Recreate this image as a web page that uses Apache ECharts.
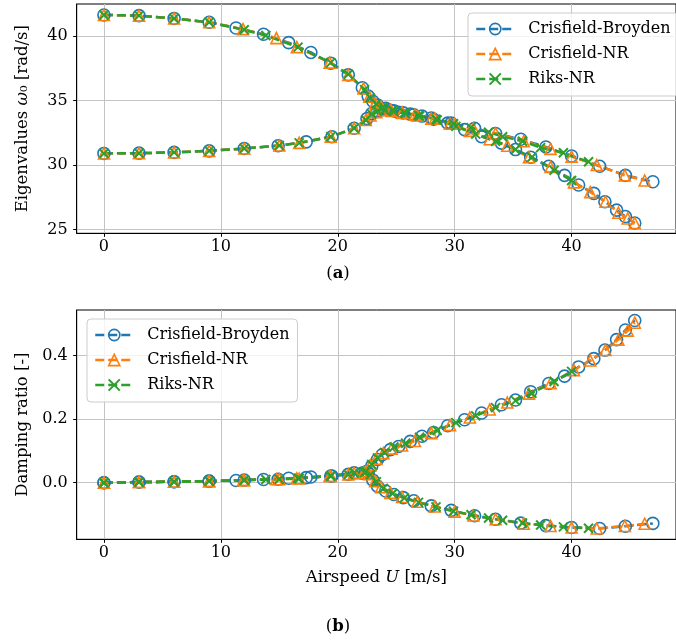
<!DOCTYPE html>
<html>
<head>
<meta charset="utf-8">
<script src="https://cdn.jsdelivr.net/npm/echarts@6/dist/echarts.min.js"></script>
<style>
  html, body { margin: 0; padding: 0; background: #ffffff; }
  #chart { width: 676px; height: 641px; }
</style>
</head>
<body>
<div id="chart"></div>
<script>
// ---------------- data ----------------
const seriesNames = ['Crisfield-Broyden', 'Crisfield-NR', 'Riks-NR'];
const xTicks = [0, 10, 20, 30, 40];
const omegaTicks = [25, 30, 35, 40];
const zetaTicks = [0, 0.2, 0.4];

// Crisfield-Broyden, mode 1 (starts near 41.7 rad/s)
const cbMode1U = [0, 3, 6, 9, 11.3, 13.65, 15.8, 17.7, 19.4, 20.9, 22.1, 22.6, 23.0, 23.4, 24.1, 24.8, 25.6, 26.5, 28.0, 29.7, 31.7, 33.5, 35.65, 37.8, 40.0, 42.4, 44.6, 46.95];
const cbMode1Omega = [41.65, 41.6, 41.38, 41.08, 40.64, 40.15, 39.5, 38.74, 37.9, 37.0, 36.0, 35.35, 34.95, 34.65, 34.4, 34.2, 34.05, 33.9, 33.65, 33.25, 32.85, 32.45, 32.0, 31.4, 30.7, 29.9, 29.2, 28.7];
const cbMode1Zeta = [0.0, 0.002, 0.003, 0.005, 0.007, 0.010, 0.014, 0.018, 0.021, 0.026, 0.030, 0.030, 0.008, -0.011, -0.026, -0.037, -0.047, -0.057, -0.073, -0.087, -0.104, -0.115, -0.127, -0.135, -0.141, -0.144, -0.137, -0.128];

// Crisfield-Broyden, mode 2 (starts near 30.9 rad/s)
const cbMode2U = [0, 3, 6, 9, 12, 14.9, 17.3, 19.5, 21.4, 22.5, 22.9, 23.4, 23.8, 24.5, 25.2, 26.2, 27.2, 28.2, 29.4, 30.85, 32.3, 34.0, 35.2, 36.5, 38.05, 39.4, 40.6, 41.9, 42.85, 43.85, 44.6, 45.4];
const cbMode2Omega = [30.9, 30.92, 30.98, 31.1, 31.28, 31.5, 31.8, 32.2, 32.85, 33.6, 34.0, 34.2, 34.3, 34.25, 34.1, 33.95, 33.8, 33.55, 33.25, 32.75, 32.2, 31.7, 31.2, 30.6, 29.9, 29.2, 28.45, 27.8, 27.15, 26.5, 26.0, 25.5];
const cbMode2Zeta = [0.0, 0.002, 0.003, 0.005, 0.008, 0.011, 0.016, 0.021, 0.031, 0.036, 0.052, 0.073, 0.088, 0.104, 0.114, 0.130, 0.146, 0.158, 0.179, 0.198, 0.219, 0.245, 0.260, 0.286, 0.312, 0.335, 0.364, 0.390, 0.417, 0.450, 0.480, 0.510];

// Crisfield-NR, mode 1
const cnMode1U = [0, 3, 6, 9, 11.9, 14.75, 16.5, 19.3, 20.9, 22.2, 22.7, 23.2, 23.7, 24.5, 25.5, 26.8, 28.3, 30.0, 31.6, 33.5, 35.9, 38.2, 40.0, 42.15, 44.55, 46.25];
const cnMode1Omega = [41.65, 41.6, 41.38, 41.08, 40.55, 39.85, 39.15, 37.95, 37.0, 35.95, 35.3, 34.8, 34.55, 34.3, 34.1, 33.85, 33.6, 33.2, 32.85, 32.45, 31.85, 31.25, 30.65, 30.0, 29.2, 28.8];
const cnMode1Zeta = [0.0, 0.002, 0.003, 0.005, 0.008, 0.011, 0.014, 0.021, 0.026, 0.030, 0.027, 0.005, -0.014, -0.032, -0.045, -0.060, -0.075, -0.091, -0.103, -0.115, -0.129, -0.136, -0.141, -0.144, -0.136, -0.129];

// Crisfield-NR, mode 2
const cnMode2U = [0, 3, 6, 9, 12, 15, 16.7, 19.4, 21.4, 22.4, 22.8, 23.3, 23.9, 24.6, 25.5, 26.6, 28.0, 29.6, 31.3, 33.0, 34.5, 36.35, 38.2, 40.2, 41.6, 42.9, 44.0, 44.8, 45.4];
const cnMode2Omega = [30.9, 30.92, 30.98, 31.1, 31.28, 31.52, 31.72, 32.2, 32.85, 33.5, 33.85, 34.1, 34.25, 34.2, 34.05, 33.9, 33.6, 33.2, 32.65, 32.0, 31.5, 30.6, 29.85, 28.65, 27.9, 27.15, 26.3, 25.85, 25.5];
const cnMode2Zeta = [0.0, 0.002, 0.003, 0.005, 0.008, 0.011, 0.013, 0.021, 0.031, 0.036, 0.055, 0.075, 0.093, 0.107, 0.117, 0.131, 0.156, 0.181, 0.205, 0.230, 0.252, 0.280, 0.313, 0.354, 0.384, 0.417, 0.450, 0.478, 0.503];

// Riks-NR, mode 1
const rnMode1U = [0, 3, 6, 9, 12, 13.85, 16.6, 19.4, 20.9, 22.3, 22.8, 23.3, 23.9, 24.7, 25.7, 26.9, 28.4, 29.9, 31.4, 32.9, 34.1, 35.8, 37.35, 39.3, 41.45];
const rnMode1Omega = [41.65, 41.6, 41.38, 41.08, 40.5, 40.05, 39.15, 37.95, 37.05, 35.85, 35.2, 34.75, 34.5, 34.25, 34.05, 33.85, 33.55, 33.2, 32.9, 32.55, 32.2, 31.85, 31.35, 30.95, 30.25];
const rnMode1Zeta = [0.0, 0.002, 0.003, 0.005, 0.008, 0.010, 0.014, 0.021, 0.026, 0.031, 0.025, 0.003, -0.018, -0.034, -0.048, -0.062, -0.076, -0.090, -0.101, -0.111, -0.118, -0.127, -0.133, -0.139, -0.143];

// Riks-NR, mode 2
const rnMode2U = [0, 3, 6, 9, 12, 15, 16.7, 19.4, 21.4, 22.4, 22.9, 23.4, 24.0, 24.8, 25.8, 27.0, 28.5, 30.1, 31.8, 33.5, 35.2, 36.6, 38.5, 40.0];
const rnMode2Omega = [30.9, 30.92, 30.98, 31.1, 31.28, 31.52, 31.72, 32.2, 32.85, 33.5, 33.95, 34.2, 34.25, 34.15, 34.0, 33.8, 33.5, 33.0, 32.4, 31.85, 31.2, 30.6, 29.6, 28.8];
const rnMode2Zeta = [0.0, 0.002, 0.003, 0.005, 0.008, 0.011, 0.013, 0.021, 0.031, 0.036, 0.057, 0.078, 0.095, 0.112, 0.124, 0.143, 0.164, 0.189, 0.210, 0.236, 0.258, 0.281, 0.318, 0.350];

// ---------------- styling ----------------
const FONT = 'DejaVu Serif';
const colors = ['#1f77b4', '#ff7f0e', '#2ca02c'];
const symbols = ['circle', 'triangle', 'path://M0,0L10,10M10,0L0,10'];
const symbolSizes = [12, 11, 9];
const borderWidths = [1.6, 1.6, 2];
const gridColor = '#c4c4c4';

const zip = (a, b) => a.map((v, i) => [v, b[i]]);

const runs = [
  { k: 0, modes: [[cbMode1U, cbMode1Omega, cbMode1Zeta], [cbMode2U, cbMode2Omega, cbMode2Zeta]] },
  { k: 1, modes: [[cnMode1U, cnMode1Omega, cnMode1Zeta], [cnMode2U, cnMode2Omega, cnMode2Zeta]] },
  { k: 2, modes: [[rnMode1U, rnMode1Omega, rnMode1Zeta], [rnMode2U, rnMode2Omega, rnMode2Zeta]] }
];

function makeSeries(gridIdx, col) {
  const out = [];
  runs.forEach(r => {
    r.modes.forEach(m => {
      out.push({
        type: 'line',
        name: seriesNames[r.k],
        xAxisIndex: gridIdx,
        yAxisIndex: gridIdx,
        data: zip(m[0], m[col]),
        symbol: symbols[r.k],
        symbolSize: symbolSizes[r.k],
        showSymbol: true,
        lineStyle: { color: colors[r.k], width: 2.5, type: [9, 4] },
        itemStyle: { color: 'rgba(255,255,255,0)', borderColor: colors[r.k], borderWidth: borderWidths[r.k] },
        emphasis: { disabled: true },
        clip: false,
        z: 3
      });
    });
  });
  return out;
}

const gridLeft = 76.7, gridWidth = 605;
const TICK_FS = 16, LABEL_FS = 16.5;

function xAxisFor(gridIdx, withName) {
  return {
    type: 'value', gridIndex: gridIdx, min: -2.33, max: 48.93,
    axisLine: { show: true, onZero: false, lineStyle: { color: '#000', width: 1 } },
    axisTick: { show: true, customValues: xTicks, length: 3.5, lineStyle: { color: '#000', width: 1 } },
    axisLabel: { customValues: xTicks, color: '#000', fontFamily: FONT, fontSize: TICK_FS, margin: 6 },
    splitLine: { show: true, lineStyle: { color: gridColor, width: 1 } },
    name: withName ? 'Airspeed {i|U} [m/s]' : '',
    nameLocation: 'middle', nameGap: 30,
    nameTextStyle: {
      color: '#000', fontFamily: FONT, fontSize: LABEL_FS,
      rich: { i: { fontStyle: 'italic', fontFamily: FONT, fontSize: LABEL_FS, color: '#000' } }
    }
  };
}

function yAxisFor(gridIdx, mn, mx, ticks, name, fmt) {
  return {
    type: 'value', gridIndex: gridIdx, min: mn, max: mx,
    axisLine: { show: true, onZero: false, lineStyle: { color: '#000', width: 1 } },
    axisTick: { show: true, customValues: ticks, length: 3.5, lineStyle: { color: '#000', width: 1 } },
    axisLabel: { customValues: ticks, color: '#000', fontFamily: FONT, fontSize: TICK_FS, margin: 9, formatter: fmt },
    splitLine: { show: true, lineStyle: { color: gridColor, width: 1 } },
    name: name, nameLocation: 'middle', nameGap: 45, nameRotate: 90,
    nameTextStyle: {
      color: '#000', fontFamily: FONT, fontSize: LABEL_FS,
      rich: { i: { fontStyle: 'italic', fontFamily: FONT, fontSize: LABEL_FS, color: '#000' } }
    }
  };
}

function legendFor(left, top) {
  return {
    left: left, top: top, orient: 'vertical', align: 'left',
    data: seriesNames.slice(),
    itemWidth: 38, itemHeight: 14, itemGap: 9,
    padding: [8, 8, 9, 7],
    backgroundColor: 'rgba(255,255,255,0.8)',
    borderColor: '#cccccc', borderWidth: 1, borderRadius: 4,
    selectedMode: false,
    itemStyle: { color: 'inherit', borderColor: 'inherit', borderWidth: 'inherit' },
    lineStyle: { color: 'inherit', width: 'inherit', type: 'inherit' },
    textStyle: { color: '#000', fontFamily: FONT, fontSize: 16, padding: [0, 0, 0, 9], lineHeight: 16 }
  };
}

const chart = echarts.init(document.getElementById('chart'), null, { renderer: 'canvas' });
chart.setOption({
  animation: false,
  backgroundColor: '#ffffff',
  grid: [
    { left: gridLeft, top: 4, width: gridWidth, height: 229.3, show: true, borderColor: '#000', borderWidth: 1, backgroundColor: 'transparent' },
    { left: gridLeft, top: 310, width: gridWidth, height: 229.3, show: true, borderColor: '#000', borderWidth: 1, backgroundColor: 'transparent' }
  ],
  xAxis: [xAxisFor(0, false), xAxisFor(1, true)],
  yAxis: [
    yAxisFor(0, 24.7, 42.5, omegaTicks, 'Eigenvalues {i|ω}₀ [rad/s]', v => String(v)),
    yAxisFor(1, -0.178, 0.543, zetaTicks, 'Damping ratio [-]', v => v.toFixed(1))
  ],
  legend: [legendFor(468, 13), legendFor(87, 319)],
  series: makeSeries(0, 1).concat(makeSeries(1, 2)),
  graphic: [
    {
      type: 'text', left: 'center', top: 265, z: 10,
      style: { text: '({b|a})', fill: '#000', font: LABEL_FS + 'px "DejaVu Serif"',
        rich: { b: { fontWeight: 'bold', fontFamily: FONT, fontSize: LABEL_FS, fill: '#000' } } }
    },
    {
      type: 'text', left: 'center', top: 618, z: 10,
      style: { text: '({b|b})', fill: '#000', font: LABEL_FS + 'px "DejaVu Serif"',
        rich: { b: { fontWeight: 'bold', fontFamily: FONT, fontSize: LABEL_FS, fill: '#000' } } }
    }
  ]
});
</script>
</body>
</html>
